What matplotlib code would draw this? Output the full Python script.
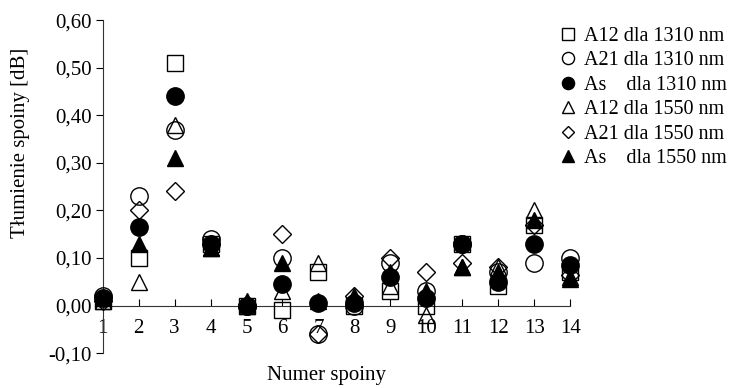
import matplotlib.pyplot as plt
import numpy as np

spoiny = list(range(1, 15))

a12_1310 = [0.01, 0.10, 0.51, 0.13, 0.00, -0.01, 0.07, 0.00, 0.03, 0.00, 0.13, 0.04, 0.17, 0.07]
a21_1310 = [0.02, 0.23, 0.37, 0.14, 0.00, 0.10, -0.06, 0.00, 0.09, 0.03, 0.13, 0.07, 0.09, 0.10]
as_1310 = [0.015, 0.165, 0.44, 0.13, 0.00, 0.045, 0.005, 0.005, 0.06, 0.015, 0.13, 0.05, 0.13, 0.085]
a12_1550 = [0.01, 0.05, 0.38, 0.12, 0.00, 0.03, 0.09, 0.02, 0.04, -0.02, 0.08, 0.08, 0.20, 0.06]
a21_1550 = [0.01, 0.20, 0.24, 0.13, 0.00, 0.15, -0.06, 0.02, 0.10, 0.07, 0.09, 0.08, 0.17, 0.065]
as_1550 = [0.015, 0.13, 0.31, 0.12, 0.01, 0.09, 0.01, 0.015, 0.07, 0.03, 0.08, 0.07, 0.18, 0.055]

labels = [
  "A12 dla 1310 nm",
  "A21 dla 1310 nm",
  "As    dla 1310 nm",
  "A12 dla 1550 nm",
  "A21 dla 1550 nm",
  "As    dla 1550 nm",
]

plt.rcParams['font.family'] = ['Liberation Serif', 'DejaVu Serif']

fig = plt.figure(figsize=(7.33, 3.88), dpi=100)
ax = fig.add_axes([0.140, 0.090, 0.638, 0.858])

series = [a12_1310, a21_1310, as_1310, a12_1550, a21_1550, as_1550]
markers = ['s', 'o', 'o', '^', 'D', '^']
faces = ['none', 'none', 'black', 'none', 'none', 'black']
sizes = [12, 12.5, 12.5, 12, 9, 12]

for i, vals in enumerate(series):
  ax.plot(spoiny, vals, linestyle='none', marker=markers[i], markersize=sizes[i],
          markerfacecolor=faces[i], markeredgecolor='black', markeredgewidth=1.0,
          label=labels[i], clip_on=False, zorder=3)

ax.set_xlim(1, 14)
ax.set_ylim(-0.1, 0.6)
ax.set_xticks(spoiny)
ax.set_yticks(np.arange(-0.1, 0.61, 0.1))
ax.set_yticklabels([f"{v:.2f}".replace('.', ',') for v in np.arange(-0.1, 0.61, 0.1)])

ax.spines['top'].set_visible(False)
ax.spines['right'].set_visible(False)
ax.spines['bottom'].set_position(('data', 0))
ax.spines['left'].set_color('#333333')
ax.spines['bottom'].set_color('#333333')
ax.tick_params(axis='x', direction='in', length=5, labelsize=15, pad=10)
ax.tick_params(axis='y', direction='out', length=5, labelsize=15, pad=3)

ax.set_ylabel("Tłumienie spoiny [dB]", fontsize=15)
ax.yaxis.set_label_coords(-0.156, 0.63)
fig.text(0.445, 0.033, "Numer spoiny", fontsize=15, ha='center', va='center')

ax.legend(loc='upper left', bbox_to_anchor=(0.96, 1.005), frameon=False, fontsize=14.5,
          markerscale=0.7, handlelength=0.8, handletextpad=0.4, labelspacing=0.27,
          borderaxespad=0)

fig.savefig("out.png", dpi=100)
